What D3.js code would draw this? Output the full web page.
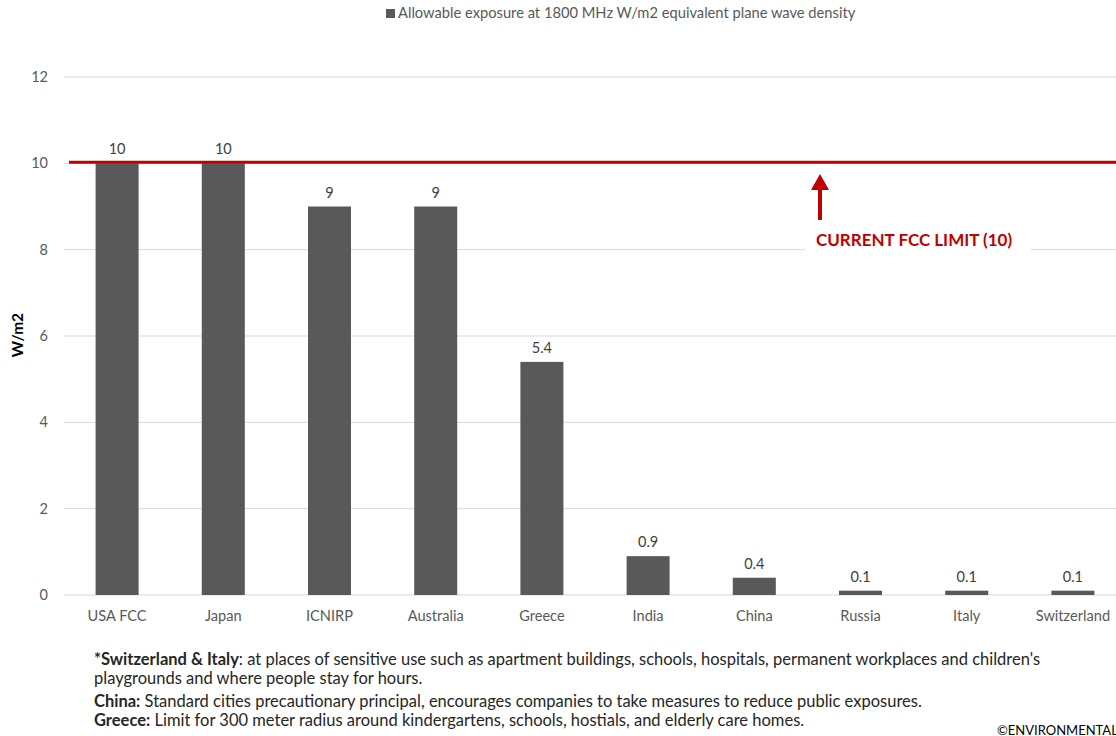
<!DOCTYPE html>
<html><head><meta charset="utf-8">
<script src="https://cdn.jsdelivr.net/npm/d3@7"></script>
<style>body{margin:0;background:#fff;overflow:hidden}svg{display:block}</style>
</head><body>
<script>
const categories = ["USA FCC","Japan","ICNIRP","Australia","Greece","India","China","Russia","Italy","Switzerland"];
const values = [10,10,9,9,5.4,0.9,0.4,0.1,0.1,0.1];
const valueLabels = ["10","10","9","9","5.4","0.9","0.4","0.1","0.1","0.1"];
const yTicks = [0,2,4,6,8,10,12];
const limitValue = 10;
const seriesName = "Allowable exposure at 1800 MHz W/m2 equivalent plane wave density";
const limitLabel = "CURRENT FCC LIMIT (10)";
const yLabel = "W/m2";
const notes = [
  [["*Switzerland & Italy",true],[": at places of sensitive use such as apartment buildings, schools, hospitals, permanent workplaces and children's",false]],
  [["playgrounds and where people stay for hours.",false]],
  [["China:",true],[" Standard cities precautionary principal, encourages companies to take measures to reduce public exposures.",false]],
  [["Greece:",true],[" Limit for 300 meter radius around kindergartens, schools, hostials, and elderly care homes.",false]]
];
const copyright = "©ENVIRONMENTAL HEALTH TRUST";

const W=1116,H=736;
const font="Lato, 'Open Sans', sans-serif";
const svg=d3.select("body").append("svg").attr("width",W).attr("height",H).style("font-family",font);

const x=d3.scaleBand().domain(categories).range([64,1126]).paddingInner(0.595).paddingOuter(0.2975);
const y=d3.scaleLinear().domain([0,12]).range([595,77]);

// gridlines
svg.append("g").selectAll("line").data(yTicks).join("line")
  .attr("x1",64).attr("x2",W).attr("y1",d=>y(d)).attr("y2",d=>y(d))
  .attr("stroke","#d9d9d9").attr("stroke-width",1);

// y axis ticks
const yAxis=svg.append("g").attr("transform","translate(48,0)")
  .call(d3.axisLeft(y).tickValues(yTicks).tickSize(0).tickPadding(0));
yAxis.select(".domain").remove();
yAxis.selectAll("text").attr("fill","#595959").style("font-size","14.5px").style("font-family",font);

// bars
svg.append("g").selectAll("rect").data(values).join("rect")
  .attr("x",(d,i)=>x(categories[i])).attr("width",x.bandwidth())
  .attr("y",d=>y(d)).attr("height",d=>y(0)-y(d)).attr("fill","#595959");

// value labels
svg.append("g").selectAll("text").data(values).join("text")
  .attr("x",(d,i)=>x(categories[i])+x.bandwidth()/2).attr("y",d=>y(d)-9)
  .attr("text-anchor","middle").attr("fill","#404040").style("font-size","14.5px")
  .text((d,i)=>valueLabels[i]);

// x axis labels
const xAxis=svg.append("g").attr("transform",`translate(0,${y(0)})`)
  .call(d3.axisBottom(x).tickSize(0).tickPadding(16));
xAxis.select(".domain").remove();
xAxis.selectAll("text").attr("fill","#595959").style("font-size","14.6px").style("font-family",font);

// limit line
svg.append("line").attr("x1",69).attr("x2",W).attr("y1",y(limitValue)-1).attr("y2",y(limitValue)-1)
  .attr("stroke","#c00000").attr("stroke-width",3);

// arrow
const ax=820;
svg.append("line").attr("x1",ax).attr("x2",ax).attr("y1",220).attr("y2",188)
  .attr("stroke","#c00000").attr("stroke-width",4);
svg.append("path").attr("d",`M${ax-9},${190} L${ax},${174} L${ax+9},${190} Z`).attr("fill","#c00000");

// limit label with white box
svg.append("rect").attr("x",805).attr("y",y(8)-12).attr("width",226).attr("height",22).attr("fill","#fff");
svg.append("text").attr("x",816).attr("y",246).attr("fill","#c00000")
  .style("font-size","17px").style("font-weight","bold").text(limitLabel);

// y label
svg.append("text").attr("transform",`translate(23,335) rotate(-90)`).attr("text-anchor","middle")
  .style("font-size","15.5px").style("font-weight","bold").attr("fill","#000").text(yLabel);

// legend
svg.append("rect").attr("x",386).attr("y",9).attr("width",9).attr("height",9).attr("fill","#595959");
svg.append("text").attr("x",398).attr("y",18).attr("fill","#595959").style("font-size","14.7px").text(seriesName);

// notes
const noteY=[665,684,707,726];
notes.forEach((parts,i)=>{
  const t=svg.append("text").attr("x",94).attr("y",noteY[i]).attr("fill","#262626").style("font-size","16.5px");
  parts.forEach(p=>t.append("tspan").style("font-weight",p[1]?"bold":"normal").text(p[0]));
});
svg.append("text").attr("x",997).attr("y",735).attr("fill","#000").style("font-size","13px").text(copyright);
</script>
</body></html>
